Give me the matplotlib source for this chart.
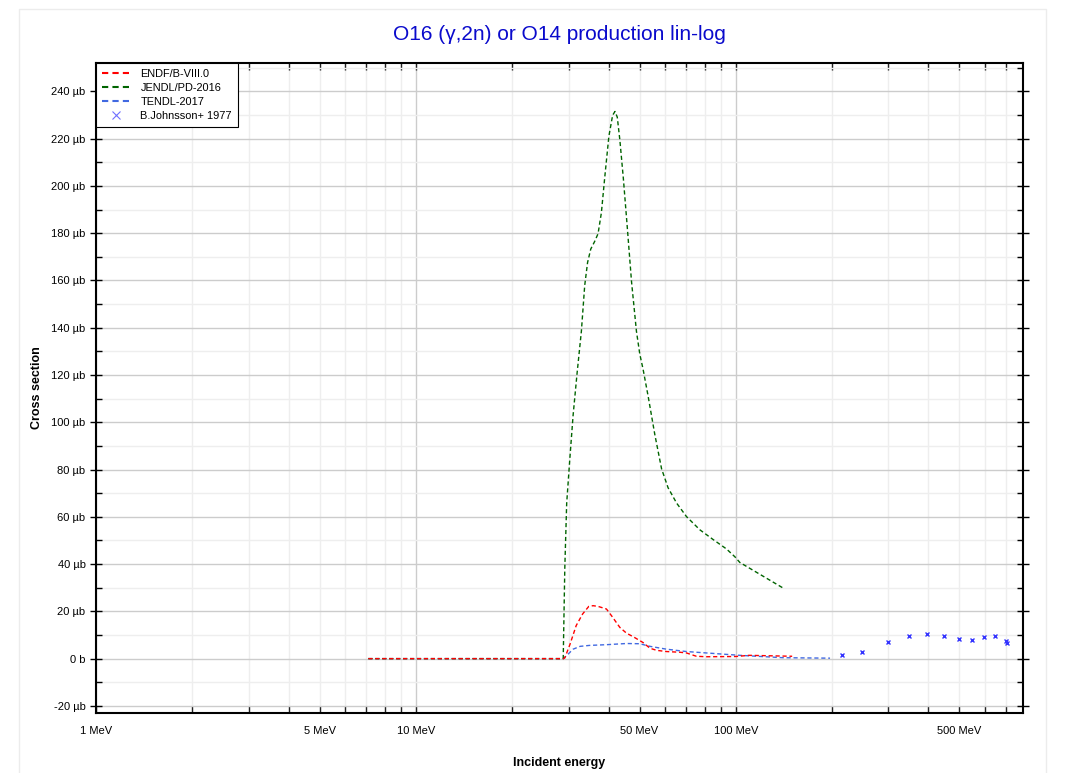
import matplotlib

matplotlib.use("Agg")
import matplotlib.pyplot as plt
from matplotlib.patches import Rectangle
from matplotlib.ticker import FixedLocator, NullFormatter

plt.rcParams["font.family"] = ["Liberation Sans", "DejaVu Sans"]

# ENDF/B-VIII.0 (MeV, microbarn)
endf_e = [7.1, 28.9, 29.2, 30.3, 31.7, 33.2, 34.7, 35.8, 37.1, 39.4, 40.9, 43.4, 45.5,
          48.3, 51.3, 53.9, 56.6, 60.7, 66.9, 70.1, 75.3, 81.0, 100.0, 110.0, 150.0]
endf_xs = [0.0, 0.0, 0.3, 6.0, 14.0, 18.9, 22.1, 22.4, 22.1, 21.0, 18.1, 13.2, 10.8,
           8.9, 6.8, 4.4, 3.5, 3.0, 2.7, 2.4, 1.0, 0.8, 0.9, 1.4, 1.0]

# JENDL/PD-2016
jendl_e = [7.1, 28.87, 29.2, 29.6, 30.3, 31.0, 31.9, 32.9, 33.7, 34.4, 35.2, 36.2, 37.1,
           38.0, 38.9, 40.1, 41.2, 41.9, 42.6, 43.4, 44.5, 45.7, 47.2, 48.9, 50.1, 51.3,
           53.2, 55.8, 58.6, 61.4, 65.3, 70.1, 77.2, 84.9, 93.5, 99.3, 102.9, 140.0]
jendl_xs = [0.0, 0.0, 38.3, 65.8, 85.2, 103.0, 120.8, 138.5, 157.9, 167.6, 173.3, 176.5,
            179.8, 188.7, 203.2, 221.0, 229.9, 231.5, 229.1, 219.4, 203.2, 183.8, 159.5,
            138.5, 128.8, 122.4, 111.0, 94.9, 80.3, 72.3, 65.8, 60.1, 54.5, 50.4, 46.4,
            43.1, 40.7, 30.0]

# TENDL-2017
tendl_e = [7.1, 28.9, 29.9, 31.0, 32.6, 34.9, 39.4, 45.5, 50.1, 53.9, 60.7, 70.1, 81.0,
           102.9, 140.0, 197.0]
tendl_xs = [0.0, 0.0, 1.9, 4.0, 5.2, 5.6, 5.9, 6.4, 6.3, 5.2, 4.0, 3.0, 2.4, 1.4, 0.4, 0.2]

# B.Johnsson+ 1977
exp_e = [214, 248, 298, 348, 397, 448, 498, 547, 596, 646, 698, 702]
exp_xs = [1.4, 2.8, 7.2, 9.6, 10.3, 9.7, 8.3, 7.9, 9.2, 9.4, 7.3, 6.8]

y_ticks = list(range(-20, 241, 20))
y_labels = [("0 b" if v == 0 else f"{v} µb") for v in y_ticks]
x_ticks = [1, 5, 10, 50, 100, 500]
x_labels = ["1 MeV", "5 MeV", "10 MeV", "50 MeV", "100 MeV", "500 MeV"]

fig = plt.figure(figsize=(10.71, 7.73), dpi=100)
fig.patches.append(Rectangle((19 / 1071, -0.01), 1027 / 1071, 1 - 9 / 773 + 0.01,
                             transform=fig.transFigure, fill=False,
                             edgecolor="#ececec", linewidth=1.0))
ax = fig.add_axes([96 / 1071, 1 - 713 / 773, 927 / 1071, 650 / 773])

dash = (0, (3, 2))
ax.plot(endf_e, endf_xs, color="#ff0000", linestyle=dash, linewidth=1.0,
        label="ENDF/B-VIII.0", zorder=4)
ax.plot(jendl_e, jendl_xs, color="#006400", linestyle=dash, linewidth=1.0,
        label="JENDL/PD-2016", zorder=3)
ax.plot(tendl_e, tendl_xs, color="#4169e1", linestyle=dash, linewidth=1.0,
        label="TENDL-2017", zorder=2)
ax.plot(exp_e, exp_xs, linestyle="none", marker="x", markersize=3.5, markeredgewidth=1.0,
        color="#3333ff", label="B.Johnsson+ 1977", zorder=5)

ax.set_xscale("log")
ax.set_xlim(1, 790)
ax.set_ylim(-23, 252)

# x grid / ticks
major_x = [1, 10, 100]
minor_x = [m * d for d in (1, 10, 100) for m in range(2, 10) if m * d < 790]
ax.xaxis.set_major_locator(FixedLocator(major_x))
ax.xaxis.set_minor_locator(FixedLocator(minor_x))
ax.xaxis.set_major_formatter(NullFormatter())
ax.xaxis.set_minor_formatter(NullFormatter())
for xv, lab in zip(x_ticks, x_labels):
    ax.text(xv, -0.02, lab, transform=ax.get_xaxis_transform(), ha="center", va="top", fontsize=8)

ax.set_yticks(y_ticks)
ax.set_yticklabels(y_labels, fontsize=8)
ax.yaxis.set_minor_locator(FixedLocator(list(range(-10, 251, 20))))

ax.grid(which="major", color="#cccccc", linewidth=1.0)
ax.grid(which="minor", color="#eeeeee", linewidth=1.0)
ax.set_axisbelow(True)

ax.tick_params(axis="x", which="both", direction="in", top=True, length=5, width=1, color="#222222")
ax.tick_params(axis="y", which="major", direction="inout", length=8, width=1, right=True)
ax.tick_params(axis="y", which="minor", direction="in", length=4, width=1, right=True)

for sp in ax.spines.values():
    sp.set_linewidth(1.5)
    sp.set_color("black")

ax.set_xlabel("Incident energy", fontsize=9, fontweight="bold", labelpad=28)
ax.set_ylabel("Cross section", fontsize=9, fontweight="bold", labelpad=6)
fig.text(559 / 1071, 1 - 35 / 773, "O16 (γ,2n) or O14 production lin-log", color="#0a0acc",
         fontsize=15, ha="center", va="center")

leg = ax.legend(loc="upper left", fontsize=7.9, frameon=True, fancybox=False, borderaxespad=0,
                handlelength=2.5, handletextpad=1.0, borderpad=0.55, labelspacing=0.36)
leg.get_frame().set_edgecolor("black")
leg.get_frame().set_linewidth(0.8)
leg.get_frame().set_alpha(1.0)
leg.set_zorder(10)
for h in leg.legend_handles[:3]:
    h.set_linewidth(1.5)
leg.legend_handles[3].set_markersize(6)
leg.legend_handles[3].set_markeredgewidth(0.8)
leg.legend_handles[3].set_alpha(0.7)

fig.savefig("out.png", dpi=100)
